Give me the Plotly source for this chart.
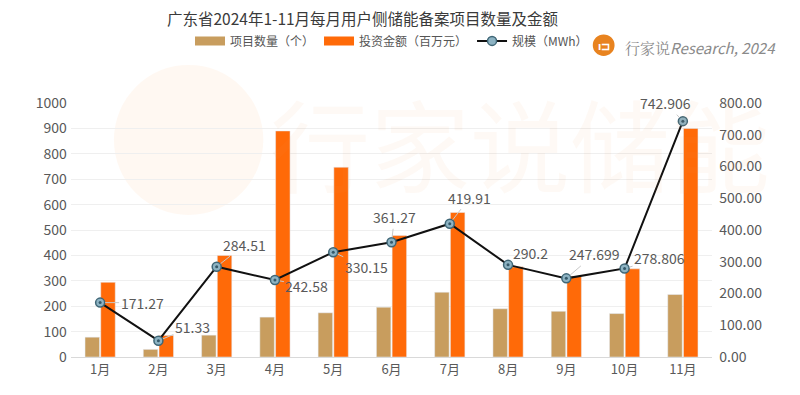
import plotly.graph_objects as go

months = ["1月", "2月", "3月", "4月", "5月", "6月", "7月", "8月", "9月", "10月", "11月"]
project_count = [78, 30, 86, 157, 174, 196, 255, 190, 180, 171, 246]
investment = [294, 85, 400, 890, 747, 478, 569, 355, 318, 347, 900]
scale_mwh = [171.27, 51.33, 284.51, 242.58, 330.15, 361.27, 419.91, 290.2, 247.699, 278.806, 742.906]
scale_labels = ["171.27", "51.33", "284.51", "242.58", "330.15", "361.27", "419.91", "290.2", "247.699", "278.806", "742.906"]
label_offsets = [(42, 0), (34, -14), (28, -22), (32, 6), (33, 15), (3, -25), (20, -26), (22, -12), (28, -24), (35, -10), (-17, -18)]

FONT = "Noto Sans CJK SC, Noto Sans, sans-serif"
GOLD = "#C89D5E"
ORANGE = "#FF6A08"

fig = go.Figure()
# legend swatches (wide rectangles as in the reference)
fig.add_trace(go.Scatter(x=[months[0]], y=[None], mode="lines", name="项目数量（个）",
                         line=dict(color=GOLD, width=9)))
fig.add_trace(go.Scatter(x=[months[0]], y=[None], mode="lines", name="投资金额（百万元）",
                         line=dict(color=ORANGE, width=9)))
fig.add_trace(go.Bar(x=months, y=project_count, name="项目数量（个）", marker_color=GOLD, showlegend=False))
fig.add_trace(go.Bar(x=months, y=investment, name="投资金额（百万元）", marker_color=ORANGE, showlegend=False))
fig.add_trace(go.Scatter(x=months, y=scale_mwh, name="规模（MWh）", yaxis="y2", mode="lines+markers",
                         line=dict(color="#111111", width=2),
                         marker=dict(size=9, color="#8db3c3", line=dict(color="#3f6676", width=1.5))))
fig.add_trace(go.Scatter(x=months, y=scale_mwh, yaxis="y2", mode="markers", showlegend=False,
                         hoverinfo="skip", marker=dict(size=3, color="#35596a")))

annotations = []
for m, v, t, (ax, ay) in zip(months, scale_mwh, scale_labels, label_offsets):
    annotations.append(dict(x=m, y=v, xref="x", yref="y2", text=t, showarrow=True, arrowhead=0,
                            arrowwidth=1, arrowcolor="#c8c8c8", ax=ax, ay=ay, standoff=5,
                            font=dict(size=14, color="#595959", family=FONT)))

# title
annotations.append(dict(x=0.455, y=1.335, xref="paper", yref="paper", yanchor="middle", xanchor="center",
                        text="广东省2024年1-11月每月用户侧储能备案项目数量及金额", showarrow=False,
                        font=dict(size=15.5, color="#3a3a3a", family=FONT)))
# watermark text
annotations.append(dict(x=0.70, y=0.85, xref="paper", yref="paper", xanchor="center", yanchor="middle",
                        text="行家说储能", showarrow=False,
                        font=dict(size=100, color="rgba(245,150,80,0.06)", family=FONT)))
# brand
annotations.append(dict(x=0.861, y=1.22, xref="paper", yref="paper", xanchor="left", yanchor="middle",
                        text="<span style='font-family:Noto Serif CJK SC, serif'>行家说</span><i>Research, 2024</i>",
                        showarrow=False, font=dict(size=15, color="#8a8a8a", family=FONT)))
annotations.append(dict(x=0.8315, y=1.228, xref="paper", yref="paper", xanchor="center", yanchor="middle",
                        text="<b>ı⊐</b>", showarrow=False, font=dict(size=11, color="white", family=FONT)))

shapes = [
    dict(type="circle", xref="paper", yref="paper", x0=0.067, x1=0.30, y0=0.559, y1=1.15,
         fillcolor="rgba(250,175,110,0.09)", line=dict(width=0), layer="below"),
    dict(type="circle", xref="paper", yref="paper", x0=0.814, x1=0.848, y0=1.185, y1=1.27,
         fillcolor="#E8831F", line=dict(width=0), layer="above"),
]

fig.update_layout(
    width=792, height=387,
    margin=dict(l=63, r=88, t=95, b=38, autoexpand=False),
    paper_bgcolor="white", plot_bgcolor="white",
    barmode="group", bargap=0.46, bargroupgap=0.08,
    font=dict(family=FONT, color="#595959", size=13),
    legend=dict(orientation="h", x=0.5, y=0.915, yanchor="middle", xanchor="center", yref="container",
                font=dict(size=12, color="#555555"), bgcolor="rgba(0,0,0,0)",
                tracegroupgap=0, itemwidth=30),
    showlegend=True,
    xaxis=dict(type="category", categoryorder="array", categoryarray=months,
               range=[-0.5, 10.5], showgrid=False, showline=True, linecolor="#d9d9d9", ticks="",
               tickfont=dict(size=13, color="#595959")),
    yaxis=dict(range=[0, 1000], dtick=100, showgrid=True, gridcolor="#efefef", zeroline=False,
               tickfont=dict(size=14, color="#595959"), ticksuffix=" "),
    yaxis2=dict(range=[0, 800], dtick=100, overlaying="y", side="right", showgrid=False,
                zeroline=False, tickformat=".2f", tickprefix="  ",
                tickfont=dict(size=14, color="#595959")),
    annotations=annotations, shapes=shapes,
)

fig.write_html("out.html")
